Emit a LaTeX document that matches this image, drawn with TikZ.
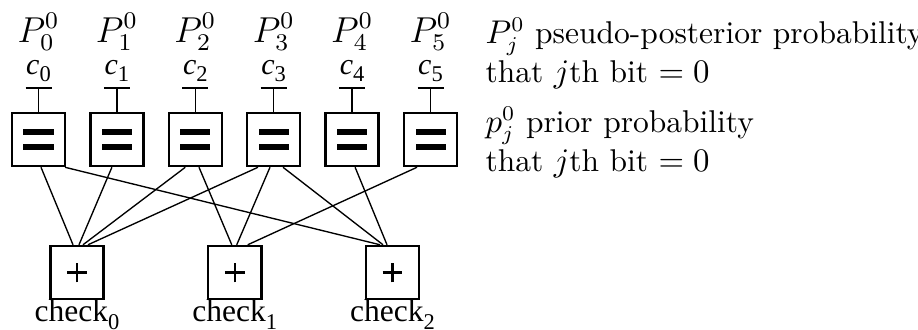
\documentclass[tikz,border=0pt]{standalone}
\usepackage{fontspec}
\usepackage{tikz}
\usetikzlibrary{positioning,calc}

\newfontfamily\tms{Liberation Serif}
% dropped subscript used under the Times labels
\newcommand{\lowsub}[1]{\raisebox{-2.4pt}{\fontsize{7.5}{7.5}\selectfont #1}}

\begin{document}
\begin{tikzpicture}[
    x=0.3333pt, y=-0.3333pt,
    varbox/.style={draw, thick, minimum size=17.7pt, inner sep=0pt,
      path picture={\foreach \dy in {-2.5pt,2.5pt}
        \fill ([yshift=\dy]path picture bounding box.center) +(-5pt,-0.85pt) rectangle +(5pt,0.85pt);}},
    chkbox/.style={draw, thick, minimum size=17.7pt, inner sep=0pt,
      path picture={\draw[line width=0.8pt] (path picture bounding box.center)
        +(-3.3pt,0) -- +(3.3pt,0) +(0,-3.3pt) -- +(0,3.3pt);}},
    wire/.style={line width=0.45pt},
    note/.style={align=left, inner sep=0pt, font=\fontsize{10.5}{13.3}\selectfont}
  ]
  \useasboundingbox (0,0) rectangle (918,329);

  % bit nodes with their inputs
  \foreach \i in {0,...,5} {
    \node[varbox] (v\i) at (38.5+78.4*\i,139.5) {};
    \coordinate (t\i) at (38.5+78.4*\i,88);
    \draw[wire] (t\i) -- (v\i);
    \draw[wire] ($(t\i)+(-13,0)$) -- ($(t\i)+(13,0)$);
    \node[anchor=base, inner sep=0pt, font=\tms\fontsize{10}{10}\selectfont] (c\i) at (38.5+78.4*\i,74) {\textit{c}\lowsub{\i}};
    \node[anchor=base, inner sep=0pt, font=\fontsize{12}{12}\selectfont] (p\i) at (38.5+78.4*\i,42) {$P^0_{\i}$};
  }

  % parity checks
  \foreach \i in {0,1,2} {
    \node[chkbox] (chk\i) at (77+157.75*\i,272.5) {};
    \node[below=-0.3pt of chk\i, inner sep=0pt, font=\tms\fontsize{10.5}{10.5}\selectfont] (lbl\i) {check\lowsub{\i}};
  }

  % edges bit -> check
  \foreach \a/\da/\b/\db in {0/2.5/0/-4, 0/26.5/2/-12.5, 1/-5/0/2, 2/-10/0/6, 2/3.7/1/-3,
      3/-15.7/0/11, 3/-3.7/1/2, 3/9.3/2/-9.5, 4/3/2/-5.5, 5/-13.5/1/13}
    \draw[wire] ($(v\a.south)+(\da,0)$) -- ($(chk\b.north)+(\db,0)$);

  \node[note, anchor=north west] (post) at (485,17) {$P^0_j$ pseudo-posterior probability\\that $j$th bit $= 0$};
  \node[note, anchor=north west] (prior) at (485,106) {$p^0_j$ prior probability\\that $j$th bit $= 0$};
\end{tikzpicture}
\end{document}
